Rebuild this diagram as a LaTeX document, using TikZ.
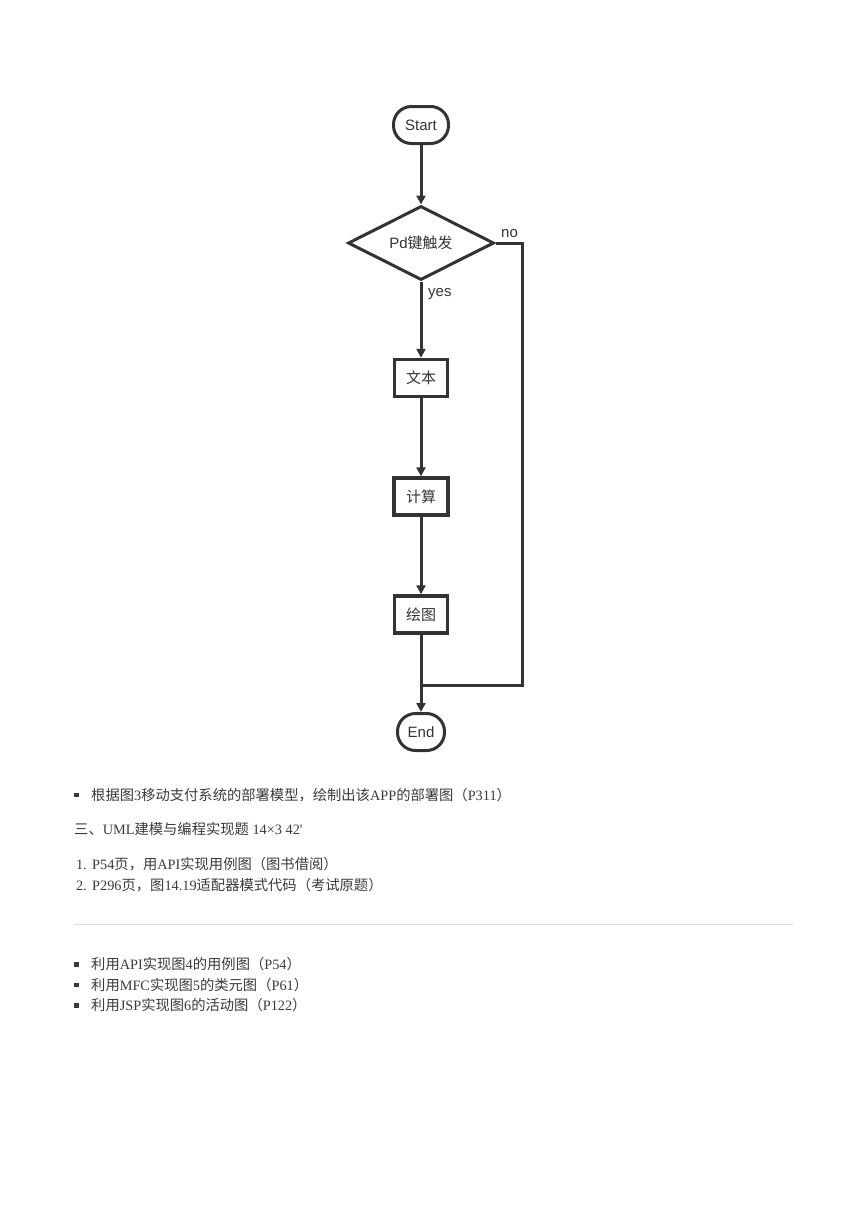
\documentclass[tikz,border=0pt]{standalone}
\usepackage{fontspec}
\setmainfont{Liberation Serif}
\newfontfamily\lserif{Liberation Serif}
\newfontfamily\cjk{Noto Sans CJK SC}
\newfontfamily\arial{Liberation Sans}
\usetikzlibrary{shapes.geometric,arrows.meta}
\definecolor{ink}{HTML}{333333}
\definecolor{bodyc}{HTML}{3A3A3A}
\definecolor{rulec}{HTML}{DDDDDD}
\begin{document}
\begin{tikzpicture}[x=1pt,y=-1pt,
  fc/.style={draw=ink, line width=3pt, text=ink, font=\arial\fontsize{15}{18}\selectfont, inner sep=0pt},
  term/.style={fc, rectangle, rounded corners=18pt, minimum height=37pt},
  proc/.style={fc, rectangle, minimum width=53pt, minimum height=37pt, line width=3.4pt},
  dec/.style={fc, diamond, minimum width=146pt, minimum height=74pt, aspect=2},
  flow/.style={draw=ink, line width=3pt, -{Triangle[length=9pt,width=9pt]}},
  wire/.style={draw=ink, line width=3pt},
  lbl/.style={text=ink, font=\arial\fontsize{15}{18}\selectfont, inner sep=0pt, anchor=base west},
  txt/.style={text=bodyc, font=\lserif\fontsize{14.3}{17}\selectfont, inner sep=0pt, anchor=base west},
  bul/.style={fill=bodyc, inner sep=0pt, minimum size=4.5pt},
]
\useasboundingbox (0,0) rectangle (868,1227);

% flowchart
\node[term, minimum width=55pt] (s) at (421,125) {Start};
\node[dec] (d) at (421,243) {Pd{\cjk 键触发}};
\node[proc] (a) at (421,378) {{\cjk 文本}};
\node[proc, minimum width=54pt] (b) at (421,496.5) {{\cjk 计算}};
\node[proc] (c) at (421,614.5) {{\cjk 绘图}};
\node[term, minimum width=47pt] (e) at (421,732) {End};
\coordinate (nr) at (522,243);
\coordinate (j) at (421,685);

\draw[flow] (s) -- (d);
\draw[flow] (d) -- (a);
\draw[flow] (a) -- (b);
\draw[flow] (b) -- (c);
\draw[flow] (c) -- (e);
\draw[wire] (d.east) -- (nr) |- (j);

\node[lbl] (no) at (501,237) {no};
\node[lbl] (yes) at (428,296) {yes};

% text below
\node[bul] (b1) at (76.5,795) {};
\node[txt] (t1) at (91,800) {{\cjk 根据图}3{\cjk 移动支付系统的部署模型，绘制出该}APP{\cjk 的部署图（}P311{\cjk ）}};

\node[txt] (h) at (74,834) {{\cjk 三、}UML{\cjk 建模与编程实现题} 14×3 42'};

\node[txt, anchor=base east] (n1) at (87,869) {1.};
\node[txt] (l1) at (92,869) {P54{\cjk 页，用}API{\cjk 实现用例图（图书借阅）}};
\node[txt, anchor=base east] (n2) at (87,890) {2.};
\node[txt] (l2) at (92,890) {P296{\cjk 页，图}14.19{\cjk 适配器模式代码（考试原题）}};

\draw[rulec, line width=1pt] (74,924.5) -- (793,924.5);

\node[bul] (b2) at (76.5,964.5) {};
\node[txt] (u1) at (91,969.5) {{\cjk 利用}API{\cjk 实现图}4{\cjk 的用例图（}P54{\cjk ）}};
\node[bul] (b3) at (76.5,985) {};
\node[txt] (u2) at (91,990) {{\cjk 利用}MFC{\cjk 实现图}5{\cjk 的类元图（}P61{\cjk ）}};
\node[bul] (b4) at (76.5,1005.5) {};
\node[txt] (u3) at (91,1010.5) {{\cjk 利用}JSP{\cjk 实现图}6{\cjk 的活动图（}P122{\cjk ）}};
\end{tikzpicture}
\end{document}
